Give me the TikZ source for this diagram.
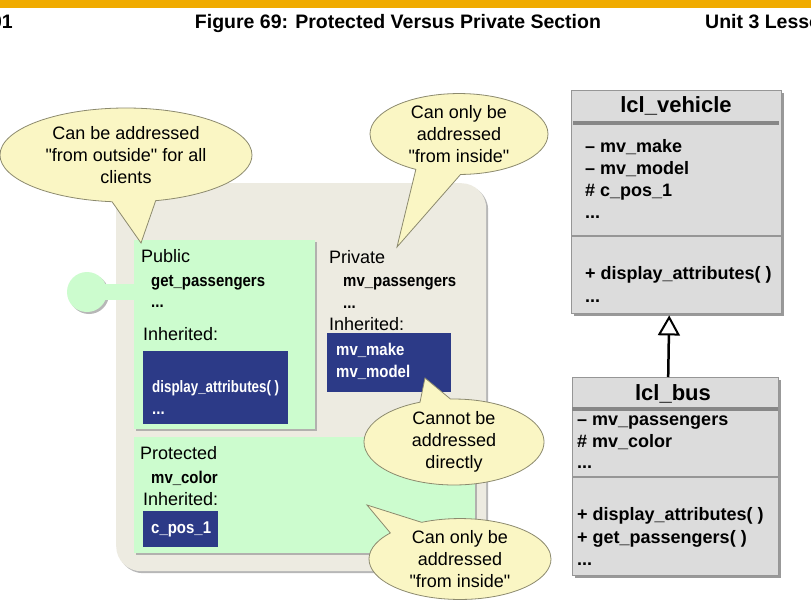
\documentclass[tikz,border=0pt]{standalone}
\usepackage{fontspec}
\setmainfont{Liberation Sans}
\newfontfamily\narrowsans[FakeStretch=0.88]{Liberation Sans}
\newfontfamily\tightsans[FakeStretch=0.81]{Liberation Sans}
\usetikzlibrary{shapes.callouts,shadows,arrows.meta}

\definecolor{sapgold}{RGB}{240,171,0}
\definecolor{panebeige}{RGB}{237,235,225}
\definecolor{panegreen}{RGB}{204,252,206}
\definecolor{inhblue}{RGB}{44,58,135}
\definecolor{notefill}{RGB}{250,246,196}
\definecolor{noteline}{RGB}{140,138,110}
\definecolor{umlgray}{RGB}{220,220,220}
\definecolor{umlline}{RGB}{150,150,150}

\tikzset{
  softshadow/.style={drop shadow={shadow xshift=2pt,shadow yshift=-2pt,fill=black!40,opacity=.7}},
  greenbox/.style={fill=panegreen,inner sep=0,anchor=north west,softshadow},
  bluebox/.style={fill=inhblue,inner sep=0,anchor=north west},
  lbl/.style={anchor=base west,inner sep=0,font=\fontsize{18}{22}\selectfont},
  mem/.style={anchor=base west,inner sep=0,font=\fontsize{17}{20}\narrowsans\bfseries},
  inh/.style={mem,text=white},
  note/.style={ellipse callout,fill=notefill,draw=noteline,line width=.8pt,
    inner sep=0,align=center,font=\fontsize{18}{22}\selectfont},
  umlbox/.style={fill=umlgray,draw=umlline,inner sep=0,anchor=north west,
    drop shadow={shadow xshift=3pt,shadow yshift=-3pt,fill=black!50,opacity=.8}},
  umltitle/.style={anchor=base,inner sep=0,font=\fontsize{22}{26}\selectfont\bfseries},
  umltxt/.style={anchor=base west,inner sep=0,font=\fontsize{18}{22}\selectfont\bfseries},
  thicksep/.style={line width=3.5pt,umlline!90!black},
  thinsep/.style={line width=1.2pt,umlline},
}

\begin{document}
\begin{tikzpicture}[x=1pt,y=-1pt]
  \clip (0,0) rectangle (811,614);
  \fill[white] (0,0) rectangle (811,614);

  % page header
  \fill[sapgold] (0,0) rectangle (811,8);
  \node[anchor=base east,inner sep=0,font=\fontsize{19.5}{24}\selectfont\bfseries] (pagenum) at (13,28) {01};
  \node[anchor=base,inner sep=0,font=\fontsize{19.5}{24}\selectfont\bfseries] (figtitle) at (398,28) {Figure 69: Protected Versus Private Section};
  \node[anchor=base west,inner sep=0,font=\fontsize{19.5}{24}\selectfont\bfseries] (unit) at (705,28) {Unit 3 Lesson};

  % class with its sections
  \node[fill=panebeige,rounded corners=25pt,inner sep=0,anchor=north west,
    minimum width=370pt,minimum height=388pt,softshadow] (cls) at (116,183) {};
  \node[greenbox,minimum width=181pt,minimum height=189pt] (pub) at (134,240) {};
  \node[greenbox,minimum width=341pt,minimum height=116pt] (prot) at (134,437) {};

  % interface lollipop
  \node[circle,fill=panegreen,inner sep=0,minimum size=40pt,softshadow] (iface) at (87,292) {};
  \draw[line width=16pt,panegreen] (iface.center) -- (iface.center -| pub.west);

  % public
  \node[lbl] (publbl) at (141,262) {Public};
  \node[mem] (getp) at (151,286) {get\_passengers};
  \node[mem] (pubdots) at (151,307) {...};
  \node[lbl] (pubinh) at (143,340) {Inherited:};
  \node[bluebox,minimum width=145pt,minimum height=73pt] (pubblue) at (143,351) {};
  \node[inh,font=\fontsize{16.5}{20}\tightsans\bfseries] (dispattr) at (152,392) {display\_attributes( )};
  \node[inh] (pubbluedots) at (152,414) {...};

  % private
  \node[lbl] (privlbl) at (329,263) {Private};
  \node[mem] (mvpass) at (343,286) {mv\_passengers};
  \node[mem] (privdots) at (343,308) {...};
  \node[lbl] (privinh) at (329,330) {Inherited:};
  \node[bluebox,minimum width=124pt,minimum height=59pt] (privblue) at (327,333) {};
  \node[inh] (mvmake) at (336,355) {mv\_make};
  \node[inh] (mvmodel) at (336,377) {mv\_model};

  % protected
  \node[lbl] (protlbl) at (140,459) {Protected};
  \node[mem] (mvcolor) at (151,483) {mv\_color};
  \node[lbl] (protinh) at (143,505) {Inherited:};
  \node[bluebox,minimum width=75pt,minimum height=36pt] (protblue) at (143,511) {};
  \node[inh] (cpos) at (151,533) {c\_pos\_1};

  % callouts
  \node[note,minimum width=252pt,minimum height=94pt,callout pointer arc=20,
    callout absolute pointer={(141,243)}] (noteout) at (126,155)
    {Can be addressed\\\textquotedbl from outside\textquotedbl\ for all\\clients};
  \node[note,minimum width=178pt,minimum height=73pt,callout pointer arc=30,
    callout absolute pointer={(397,247)}] (noteinpriv) at (459,134)
    {Can only be\\addressed\\\textquotedbl from inside\textquotedbl};
  \node[note,minimum width=180pt,minimum height=70pt,callout pointer arc=20,
    callout absolute pointer={(425,378)}] (notedirect) at (454,442)
    {Cannot be\\addressed\\directly};
  \node[note,minimum width=182pt,minimum height=70pt,callout pointer arc=25,
    callout absolute pointer={(367,505)}] (noteinprot) at (460,559)
    {Can only be\\addressed\\\textquotedbl from inside\textquotedbl};

  % lcl_vehicle
  \node[umlbox,minimum width=210pt,minimum height=223pt] (veh) at (571,90) {};
  \node[umltitle] (vehname) at (676,112) {lcl\_vehicle};
  \draw[thicksep] ([xshift=2pt,yshift=-33pt]veh.north west) -- ([xshift=-2pt,yshift=-33pt]veh.north east);
  \node[umltxt] (vmake) at (585,152) {– mv\_make};
  \node[umltxt] (vmodel) at (585,174) {– mv\_model};
  \node[umltxt] (vpos) at (585,196) {\# c\_pos\_1};
  \node[umltxt] (vdots) at (585,218) {...};
  \draw[thinsep] ([yshift=-146pt]veh.north west) -- ([yshift=-146pt]veh.north east);
  \node[umltxt] (vdisp) at (585,279) {+ display\_attributes( )};
  \node[umltxt] (vdots2) at (585,302) {...};

  % lcl_bus
  \node[umlbox,minimum width=206pt,minimum height=198pt] (bus) at (572,377) {};
  \node[umltitle] (busname) at (673,400) {lcl\_bus};
  \draw[thicksep] ([yshift=-32pt]bus.north west) -- ([yshift=-32pt]bus.north east);
  \node[umltxt] (bpass) at (577,425) {– mv\_passengers};
  \node[umltxt] (bcolor) at (577,447) {\# mv\_color};
  \node[umltxt] (bdots) at (577,468) {...};
  \draw[thinsep] ([yshift=-100pt]bus.north west) -- ([yshift=-100pt]bus.north east);
  \node[umltxt] (bdisp) at (577,520) {+ display\_attributes( )};
  \node[umltxt] (bget) at (577,543) {+ get\_passengers( )};
  \node[umltxt] (bdots2) at (577,565) {...};

  % inheritance
  \draw[line width=2.5pt,-{Triangle[open,length=20pt,width=22pt,line width=2pt]}]
    ([xshift=-7pt]bus.north) -- ([xshift=-7pt,yshift=-2pt]veh.south);
\end{tikzpicture}
\end{document}
